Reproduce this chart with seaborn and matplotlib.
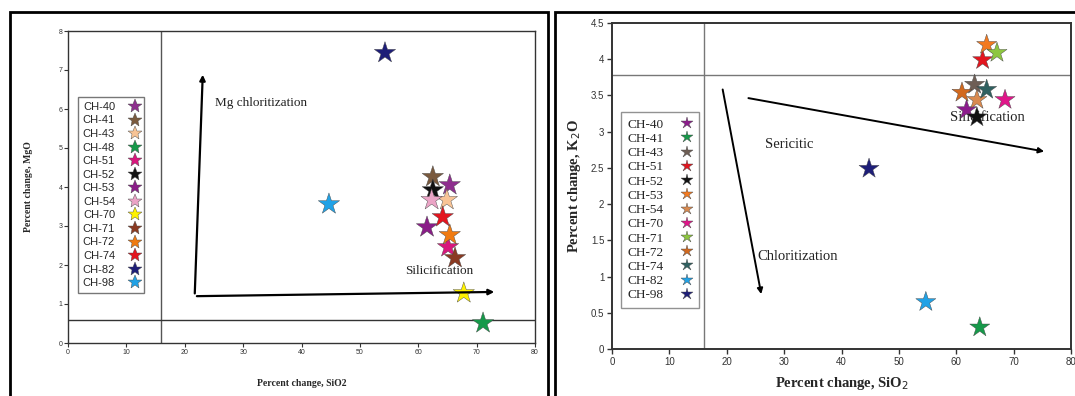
import matplotlib
matplotlib.use("Agg")
import matplotlib.pyplot as plt
import seaborn as sns
import pandas as pd
from matplotlib.patches import Rectangle

sns.set_theme(style="white")
plt.rcParams['font.family'] = ['Liberation Sans', 'DejaVu Sans']

# ---------------- Data: left panel (MgO vs SiO2) ----------------
left_samples = ["CH-40", "CH-41", "CH-43", "CH-48", "CH-51", "CH-52", "CH-53",
                "CH-54", "CH-70", "CH-71", "CH-72", "CH-74", "CH-82", "CH-98"]
left_sio2 = [65.4, 62.5, 64.9, 71.1, 65.1, 62.5, 61.5, 62.3, 67.8, 66.3, 65.4, 64.2, 54.3, 44.7]
left_mgo = [4.05, 4.26, 3.67, 0.51, 2.46, 3.92, 2.97, 3.67, 1.28, 2.18, 2.77, 3.23, 7.44, 3.56]
left_colors = ["#8E2F8E", "#7A5A3E", "#F8C496", "#16994A", "#D8177C", "#111111", "#8A1D88",
               "#EBA4C6", "#FFF200", "#8A3A22", "#F07A10", "#E3151E", "#1E1E78", "#21A2E6"]

# ---------------- Data: right panel (K2O vs SiO2) ----------------
right_samples = ["CH-40", "CH-41", "CH-43", "CH-51", "CH-52", "CH-53", "CH-54",
                 "CH-70", "CH-71", "CH-72", "CH-74", "CH-82", "CH-98"]
right_sio2 = [61.8, 64.1, 63.2, 64.6, 63.6, 65.3, 63.6, 68.5, 67.1, 61.0, 65.3, 54.7, 44.8]
right_k2o = [3.30, 0.30, 3.65, 3.99, 3.20, 4.20, 3.44, 3.44, 4.09, 3.54, 3.58, 0.65, 2.49]
right_colors = ["#8C1C8C", "#16994A", "#6E5E55", "#E3151E", "#111111", "#F27A20", "#D98A50",
                "#E0168A", "#8DC63F", "#D2691E", "#2F6060", "#21A2E6", "#1E1E78"]

left_df = pd.DataFrame({"sample": left_samples, "SiO2": left_sio2, "MgO": left_mgo})
right_df = pd.DataFrame({"sample": right_samples, "SiO2": right_sio2, "K2O": right_k2o})

W, H = 1075, 396
fig = plt.figure(figsize=(W / 100, H / 100), dpi=100)

def fx(px):
    return px / W

def fy(py):
    return 1 - py / H

# outer frames
fig.patches.append(Rectangle((fx(10), fy(398)), fx(548) - fx(10), fy(12) - fy(398),
                             transform=fig.transFigure, fill=False, lw=2, ec="black"))
fig.patches.append(Rectangle((fx(555), fy(398)), fx(1080) - fx(555), fy(12) - fy(398),
                             transform=fig.transFigure, fill=False, lw=2, ec="black"))

# ---------------- Left axes ----------------
axL = fig.add_axes([fx(68), fy(343), fx(535) - fx(68), fy(31) - fy(343)])
sns.scatterplot(data=left_df, x="SiO2", y="MgO", hue="sample", hue_order=left_samples,
                palette=left_colors, marker="*", s=260, linewidth=0.3, edgecolor="#444444",
                ax=axL, legend=True, zorder=3)
axL.set_xlim(0, 80)
axL.set_ylim(0, 8)
axL.set_xticks(range(0, 81, 10))
axL.set_yticks(range(0, 9))
axL.tick_params(axis="both", labelsize=5, length=3, width=0.8, direction="out",
                bottom=True, left=True, pad=1, colors="#333333")
for sp in axL.spines.values():
    sp.set_color("#333333")
    sp.set_linewidth(1.0)
axL.axvline(16, color="#555555", lw=1.0, zorder=1)
axL.axhline(0.6, color="#333333", lw=1.0, zorder=1)
axL.set_xlabel("Percent change, SiO2", family=["Liberation Serif"], fontweight="bold",
               fontsize=7, labelpad=17)
axL.set_ylabel("Percent change, MgO", family=["Liberation Serif"], fontweight="bold",
               fontsize=7, labelpad=18)
# arrows
axL.annotate("", xy=(23.1, 6.95), xytext=(21.7, 1.2),
             arrowprops=dict(arrowstyle="-|>", lw=1.6, color="black", mutation_scale=8))
axL.annotate("", xy=(73.5, 1.31), xytext=(21.6, 1.2),
             arrowprops=dict(arrowstyle="-|>", lw=1.6, color="black", mutation_scale=8))
axL.text(25.2, 6.15, "Mg chloritization", family=["Liberation Serif"], fontsize=9.5,
         color="#222222", va="center", ha="left")
axL.text(57.8, 1.85, "Silicification", family=["Liberation Serif"], fontsize=9.5,
         color="#222222", va="center", ha="left", zorder=4)
h, l = axL.get_legend_handles_labels()
legL = axL.legend(h, l, markerfirst=False, loc="upper left", bbox_to_anchor=(0.022, 0.787),
                  fontsize=8, frameon=True, handlelength=0.9, handletextpad=1.3,
                  labelspacing=0.32, borderpad=0.4, borderaxespad=0, fancybox=False)
legL.get_frame().set_edgecolor("#555555")
legL.get_frame().set_linewidth(1.0)
for hd in legL.legend_handles:
    hd.set_markersize(10)

# ---------------- Right axes ----------------
axR = fig.add_axes([fx(612), fy(349), fx(1071) - fx(612), fy(23) - fy(349)])
sns.scatterplot(data=right_df, x="SiO2", y="K2O", hue="sample", hue_order=right_samples,
                palette=right_colors, marker="*", s=230, linewidth=0.3, edgecolor="#444444",
                ax=axR, legend=True, zorder=3)
axR.set_xlim(0, 80)
axR.set_ylim(0, 4.5)
axR.set_xticks(range(0, 81, 10))
axR.set_yticks([0, 0.5, 1, 1.5, 2, 2.5, 3, 3.5, 4, 4.5])
axR.set_yticklabels(["0", "0.5", "1", "1.5", "2", "2.5", "3", "3.5", "4", "4.5"])
axR.tick_params(axis="both", labelsize=7, length=3.5, width=1.0, direction="out",
                bottom=True, left=True, pad=2, colors="#333333")
for sp in axR.spines.values():
    sp.set_color("#333333")
    sp.set_linewidth(1.4)
axR.axvline(16, color="#777777", lw=1.0, zorder=1)
axR.axhline(3.78, color="#777777", lw=1.0, zorder=1)
axR.set_xlabel("Percent change, SiO$_2$", family=["Liberation Serif"], fontweight="bold",
               fontsize=10.5, labelpad=6)
axR.set_ylabel("Percent change, K$_2$O", family=["Liberation Serif"], fontweight="bold",
               fontsize=10.5, labelpad=6)
axR.annotate("", xy=(26.1, 0.72), xytext=(19.2, 3.62),
             arrowprops=dict(arrowstyle="-|>", lw=1.4, color="black", mutation_scale=8))
axR.annotate("", xy=(75.8, 2.72), xytext=(23.3, 3.47),
             arrowprops=dict(arrowstyle="-|>", lw=1.4, color="black", mutation_scale=8))
axR.text(26.7, 2.82, "Sericitic", family=["Liberation Serif"], fontsize=10.5,
         color="#222222", va="center", ha="left")
axR.text(25.4, 1.28, "Chloritization", family=["Liberation Serif"], fontsize=10.5,
         color="#222222", va="center", ha="left")
axR.text(58.9, 3.19, "Silicification", family=["Liberation Serif"], fontsize=10.5,
         color="#222222", va="center", ha="left", zorder=2)
h, l = axR.get_legend_handles_labels()
legR = axR.legend(h, l, markerfirst=False, loc="upper left", bbox_to_anchor=(0.019, 0.727),
                  frameon=True, handlelength=0.9, handletextpad=1.3,
                  labelspacing=0.15, borderpad=0.5, borderaxespad=0, fancybox=False,
                  prop={"family": "Liberation Serif", "size": 9.5})
legR.get_frame().set_edgecolor("#777777")
legR.get_frame().set_linewidth(1.0)
for hd in legR.legend_handles:
    hd.set_markersize(9)

fig.savefig("out.png", dpi=100)
